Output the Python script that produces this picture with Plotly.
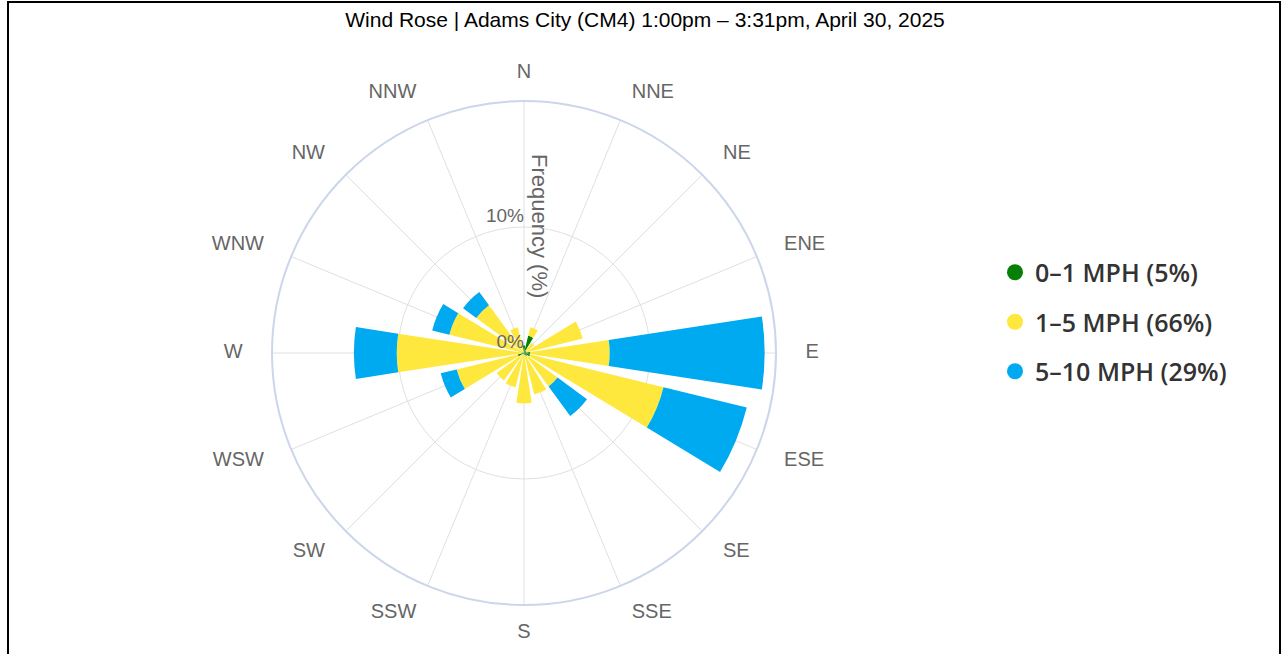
import plotly.graph_objects as go

directions = ["N", "NNE", "NE", "ENE", "E", "ESE", "SE", "SSE",
              "S", "SSW", "SW", "WSW", "W", "WNW", "NW", "NNW"]
green_0_1 = [0.6, 1.4, 0.2, 0.2, 0.5, 0.5, 0.3, 0.2, 0.1, 0.1, 0.1, 0.5, 0.2, 0.1, 0.0, 0.0]
yellow_1_5 = [0.0, 0.7, 0.8, 4.6, 6.3, 10.9, 3.0, 3.2, 3.9, 2.7, 2.6, 5.0, 9.9, 6.0, 4.7, 2.1]
blue_5_10 = [0.0, 0.0, 0.0, 0.0, 12.3, 6.8, 2.9, 0.0, 0.0, 0.0, 0.0, 1.3, 3.4, 1.4, 1.3, 0.0]
series_names = ["0–1 MPH (5%)", "1–5 MPH (66%)", "5–10 MPH (29%)"]
series_colors = ["#058005", "#FFE83D", "#00AAF0"]
radial_ticks = [0, 10]
radial_ticktext = ["0%", "10%"]
title_text = "Wind Rose | Adams City (CM4) 1:00pm – 3:31pm, April 30, 2025"

n = len(directions)
theta = [i * 360 / n for i in range(n)]
r_max = 20

W, H = 1286, 654
cx, cy, R = 524, 353, 252
R2 = 300  # outer (label) polar frame radius in px

fig = go.Figure()
for vals, name, col in zip([green_0_1, yellow_1_5, blue_5_10], series_names, series_colors):
    fig.add_trace(go.Barpolar(
        r=vals, theta=theta, width=17.5, name=name,
        marker=dict(color=col, line=dict(width=0)),
        showlegend=False,
    ))

# legend entries with circle markers
for i, (name, col) in enumerate(zip(series_names, series_colors)):
    fig.add_trace(go.Scatterpolar(
        r=[None], theta=[None], mode="markers", name=name,
        marker=dict(color=col, size=30, symbol="circle"),
        legendgroup=f"g{i}", showlegend=True,
    ))

# radial tick labels
fig.add_trace(go.Scatterpolar(
    r=radial_ticks, theta=[0, 0], mode="text", text=radial_ticktext,
    textposition="top left",
    textfont=dict(family="Liberation Sans, Arial", size=19, color="#666666"),
    showlegend=False, hoverinfo="skip", cliponaxis=False,
))

# direction labels, on a concentric larger polar frame sharing the same scale
def is_vertical(i):
    return i == 0 or i == n // 2

def dir_pos(i):
    if is_vertical(i):
        return "middle center"
    return "middle right" if i < n // 2 else "middle left"

label_r = [r_max * (1.111 if is_vertical(i) else 1.117) for i in range(n)]

fig.add_trace(go.Scatterpolar(
    r=label_r, theta=theta, mode="text", text=directions,
    textposition=[dir_pos(i) for i in range(n)],
    textfont=dict(family="Liberation Sans, Arial", size=20, color="#666666"),
    showlegend=False, hoverinfo="skip", cliponaxis=False, subplot="polar2",
))

def dom(rad):
    return dict(x=[(cx - rad) / W, (cx + rad) / W], y=[(H - cy - rad) / H, (H - cy + rad) / H])

fig.update_layout(
    width=W, height=H,
    margin=dict(l=0, r=0, t=0, b=0),
    paper_bgcolor="white",
    title=dict(text=title_text, x=645 / W, xanchor="center", y=1 - 20 / H, yanchor="middle",
               font=dict(family="Liberation Sans, Arial", size=21, color="#000000")),
    polar=dict(
        domain=dom(R),
        bgcolor="white",
        barmode="stack",
        angularaxis=dict(
            rotation=90, direction="clockwise",
            tickmode="array", tickvals=theta, ticktext=directions,
            showticklabels=False, ticks="",
            showgrid=True, gridcolor="#e0e0e0", gridwidth=1,
            showline=True, linecolor="#ccd6eb", linewidth=2,
        ),
        radialaxis=dict(
            range=[0, r_max], tickmode="array", tickvals=radial_ticks + [r_max],
            showticklabels=False, ticks="", showline=False,
            showgrid=True, gridcolor="#e0e0e0", gridwidth=1, angle=90,
        ),
    ),
    polar2=dict(
        domain=dom(R2),
        bgcolor="rgba(0,0,0,0)",
        angularaxis=dict(rotation=90, direction="clockwise", showticklabels=False,
                         ticks="", showgrid=False, showline=False),
        radialaxis=dict(range=[0, r_max * R2 / R], showticklabels=False, ticks="",
                        showgrid=False, showline=False),
    ),
    legend=dict(
        x=995 / W, xanchor="left", y=1 - 322 / H, yanchor="middle",
        font=dict(family="Open Sans, Noto Sans", size=25, color="#333333", weight=600),
        tracegroupgap=14, itemsizing="trace", bgcolor="rgba(0,0,0,0)",
    ),
    annotations=[dict(
        text="Frequency (%)", xref="paper", yref="paper",
        x=540 / W, y=1 - 226 / H, xanchor="center", yanchor="middle",
        textangle=90, showarrow=False,
        font=dict(family="Liberation Sans, Arial", size=22, color="#666666"),
    )],
    shapes=[dict(type="rect", xref="paper", yref="paper",
                 x0=8 / W, x1=1280 / W, y0=-0.05, y1=1 - 2 / H,
                 line=dict(color="black", width=2), fillcolor="rgba(0,0,0,0)")],
)

fig.write_html("out.html", config={"displayModeBar": False},
               post_script="document.body.style.margin='0';document.body.style.overflow='hidden';")
